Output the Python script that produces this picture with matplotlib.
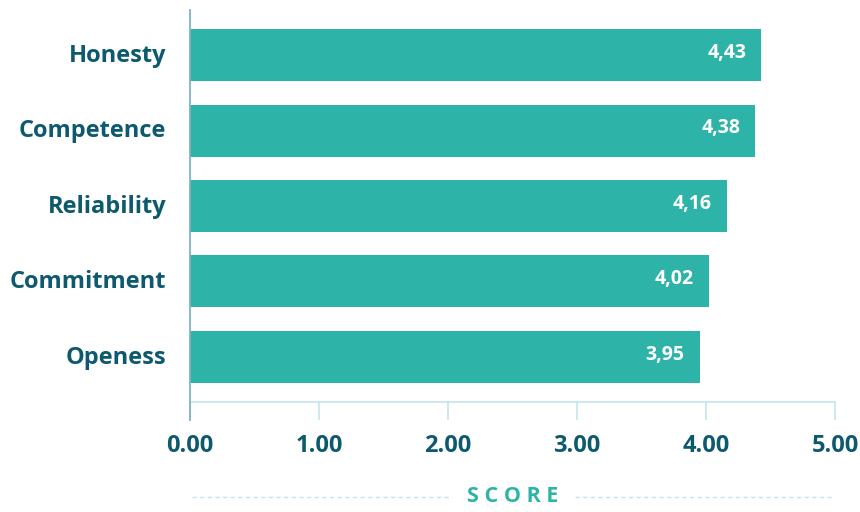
import matplotlib
matplotlib.use("Agg")
import matplotlib.pyplot as plt
from matplotlib.lines import Line2D

categories = ["Honesty", "Competence", "Reliability", "Commitment", "Openess"]
scores = [4.43, 4.38, 4.16, 4.02, 3.95]
score_labels = ["4,43", "4,38", "4,16", "4,02", "3,95"]
x_ticks = [0, 1, 2, 3, 4, 5]
x_tick_labels = ["0.00", "1.00", "2.00", "3.00", "4.00", "5.00"]
axis_title = "SCORE"

BAR = "#2eb3a9"
DARK = "#0d5a6e"
LIGHT = "#c4e4ee"
SPINE = "#7fb3c4"

plt.rcParams["font.family"] = ["Open Sans", "DejaVu Sans"]

W, H = 860, 512
fig = plt.figure(figsize=(W / 100, H / 100), dpi=100)
ax = fig.add_axes([190 / W, 1 - 402 / H, (835 - 190) / W, (402 - 10) / H])

y = list(range(len(categories)))
ax.barh(y, scores, height=0.69, color=BAR, zorder=2)
for yi, v, lab in zip(y, scores, score_labels):
    ax.annotate(lab, (v, yi - 0.03), xytext=(-15, 0), textcoords="offset pixels",
                ha="right", va="center", color="white", fontsize=14,
                fontweight="bold", zorder=3)

ax.set_xlim(0, 5)
ax.set_ylim(len(categories) - 0.4, -0.6)
ax.set_yticks([yi - 0.03 for yi in y])
ax.set_yticklabels(categories, fontsize=17, fontweight="bold", color=DARK)
ax.tick_params(axis="y", length=0, pad=17)
ax.set_xticks(x_ticks)
ax.set_xticklabels(x_tick_labels, fontsize=17, fontweight="bold", color=DARK)
ax.tick_params(axis="x", length=13, width=1.2, color=LIGHT, pad=10)

for s in ["top", "right", "left"]:
    ax.spines[s].set_visible(False)
ax.spines["bottom"].set_color(LIGHT)
ax.spines["bottom"].set_linewidth(1.2)

# vertical axis line running down past the baseline
ax.add_line(Line2D([0, 0], [1, -18 / 392], transform=ax.transAxes,
                   color=SPINE, lw=1.3, clip_on=False, zorder=4))

# axis title flanked by dashed rules
ty = 1 - 497 / H
fig.text(513 / W, ty, "S C O R E", ha="center", va="center",
         color=BAR, fontsize=15.5, fontweight="bold")
fig.add_artist(Line2D([192 / W, 452 / W], [ty, ty], color=LIGHT, lw=1,
                      linestyle=(0, (3, 2.5))))
fig.add_artist(Line2D([575 / W, 835 / W], [ty, ty], color=LIGHT, lw=1,
                      linestyle=(0, (3, 2.5))))

fig.savefig("out.png", dpi=100, facecolor="white")
